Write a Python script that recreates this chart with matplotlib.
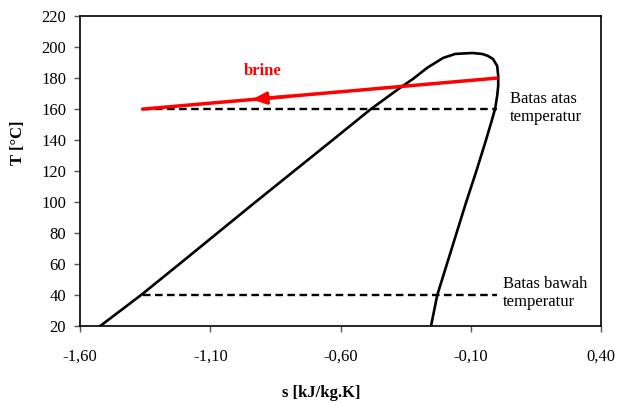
import matplotlib.pyplot as plt
from matplotlib.ticker import FuncFormatter

# Kurva saturasi (entropi s vs suhu T)
s_kurva = [-1.523, -1.366, -1.219, -1.073, -0.927, -0.779, -0.631, -0.484,
           -0.372, -0.322, -0.268, -0.207, -0.160, -0.095, -0.057, -0.034,
           -0.015, 0.001, 0.005, 0.005, 0.001, -0.007, -0.020, -0.042,
           -0.079, -0.118, -0.155, -0.192, -0.229, -0.253]
T_kurva = [20, 40, 60, 80, 100, 120, 140, 160,
           173.7, 179.5, 186.6, 193.0, 195.6, 196.2, 195.6, 194.3,
           192.3, 187.8, 181.4, 175.0, 168.6, 160.2, 152.5, 140,
           120, 100, 80, 60, 40, 20]

# Garis brine
s_brine = [-1.36, 0.0]
T_brine = [160, 180]

# Batas suhu atas dan bawah
s_batas = [-1.36, 0.0]
T_atas = 160
T_bawah = 40

x_ticks = [-1.6, -1.1, -0.6, -0.1, 0.4]
y_ticks = list(range(20, 221, 20))

plt.rcParams['font.family'] = ['Liberation Serif', 'DejaVu Serif']
plt.rcParams['font.size'] = 12

fig = plt.figure(figsize=(6.21, 4.03), dpi=100)
ax = fig.add_axes([0.129, 0.191, 0.839, 0.769])

ax.plot(s_kurva, T_kurva, color='black', lw=1.9, solid_joinstyle='round')
ax.plot(s_batas, [T_atas, T_atas], color='black', lw=1.7, ls=(0, (3.2, 1.9)))
ax.plot(s_batas, [T_bawah, T_bawah], color='black', lw=1.7, ls=(0, (3.2, 1.9)))
ax.plot(s_brine, T_brine, color='red', lw=2.5, solid_capstyle='round')

# panah arah aliran brine di tengah garis
s_ujung = -0.94
s_ekor = -0.80
kemiringan = (T_brine[1] - T_brine[0]) / (s_brine[1] - s_brine[0])
ax.annotate('', xy=(s_ujung, T_brine[0] + kemiringan * (s_ujung - s_brine[0])),
            xytext=(s_ekor, T_brine[0] + kemiringan * (s_ekor - s_brine[0])),
            arrowprops=dict(arrowstyle='-|>,head_length=0.7,head_width=0.3',
                            color='red', lw=2.4, shrinkA=0, shrinkB=0))

ax.text(-0.90, 184.5, 'brine', color='red', fontweight='bold', ha='center', va='center')
ax.text(0.051, 160.8, 'Batas atas\ntemperatur', ha='left', va='center', linespacing=1.2)
ax.text(0.024, 41.2, 'Batas bawah\ntemperatur', ha='left', va='center', linespacing=1.2)

ax.set_xlim(-1.6, 0.4)
ax.set_ylim(20, 220)
ax.set_xticks(x_ticks)
ax.set_yticks(y_ticks)
ax.xaxis.set_major_formatter(FuncFormatter(lambda v, p: f'{v:.2f}'.replace('.', ',')))
ax.tick_params(direction='out', length=4, width=1, color='#555555')
ax.tick_params(axis='x', pad=12)
ax.tick_params(axis='y', pad=6)

ax.set_xlabel('s [kJ/kg.K]', fontweight='bold', va='center')
ax.set_ylabel('T [°C]', fontweight='bold', va='center')
ax.xaxis.set_label_coords(0.463, -0.216)
ax.yaxis.set_label_coords(-0.119, 0.59)

for sp in ax.spines.values():
    sp.set_linewidth(1.2)

fig.savefig('out.png', dpi=100)
